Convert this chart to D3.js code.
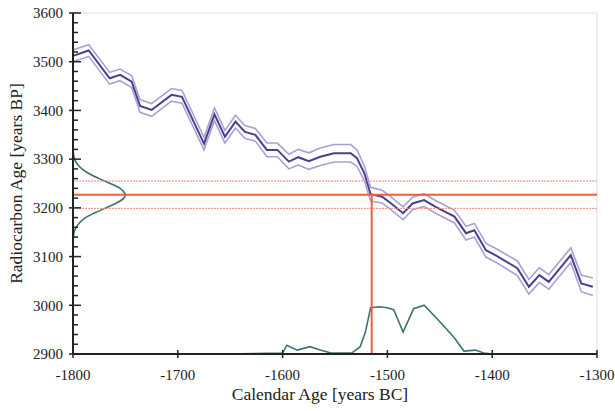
<!DOCTYPE html>
<html><head><meta charset="utf-8">
<script src="https://cdn.jsdelivr.net/npm/d3@7"></script>
<style>body{margin:0;background:#fff}svg{display:block}</style>
</head><body><svg id="c" width="615" height="411"></svg>
<script>
// Calibration curve (calendar year, radiocarbon age, 1-sigma)
const calYears = [-1800,-1785,-1765,-1755,-1744,-1736,-1725,-1706,-1696,-1675,-1665,-1655,-1645,-1636,-1626,-1615,-1605,-1594,-1585,-1575,-1564,-1551,-1535,-1529,-1522,-1516,-1505,-1497,-1485,-1476,-1465,-1454,-1436,-1425,-1417,-1406,-1397,-1376,-1365,-1355,-1346,-1325,-1315,-1304];
const c14Age = [3512,3523,3466,3473,3459,3409,3401,3432,3428,3332,3392,3346,3377,3356,3350,3319,3319,3295,3304,3296,3305,3312,3312,3302,3271,3228,3223,3210,3189,3209,3216,3202,3182,3148,3154,3113,3103,3076,3038,3062,3048,3103,3045,3038];
const c14Err = [12,12,12,12,12,13,13,13,13,13,13,13,13,13,13,14,14,15,16,17,18,18,18,17,15,14,13,13,13,13,13,13,13,14,14,14,14,15,15,15,15,15,17,18];
// Measured sample
const sampleAge = 3227;
const sampleErr = 28;
const sampleCalYear = -1515;
// Measured radiocarbon distribution (drawn on y axis)
const rcLevels = [3130,3140,3150,3160,3170,3180,3190,3200,3210,3220,3227,3230,3240,3250,3260,3270,3280,3290,3300,3310,3320];
const rcDensity = [0,0.01,0.02,0.06,0.13,0.24,0.42,0.63,0.83,0.97,1.0,0.99,0.9,0.71,0.5,0.31,0.17,0.08,0.03,0.01,0];
// Calibrated probability distribution (drawn on x axis)
const probYears = [-1660,-1600,-1596,-1586,-1574,-1564,-1554,-1534,-1526,-1521,-1516,-1508,-1500,-1494,-1485,-1475,-1465,-1456,-1446,-1436,-1427,-1416,-1408,-1400];
const probValues = [0,0.02,0.18,0.08,0.15,0.08,0.02,0.02,0.15,0.45,0.95,0.97,0.95,0.91,0.45,0.93,1.0,0.8,0.57,0.33,0.06,0.08,0.02,0];
// Axes
const xTicks = [-1800,-1700,-1600,-1500,-1400,-1300];
const yTicks = [2900,3000,3100,3200,3300,3400,3500,3600];
const xTitle = "Calendar Age [years BC]";
const yTitle = "Radiocarbon Age [years BP]";

const FONT = "'Liberation Serif', 'Times New Roman', serif";
const W = 615, H = 411, m = {l:73, r:18, t:13, b:57};
const svg = d3.select("#c");
const x = d3.scaleLinear().domain([-1800,-1300]).range([m.l, W - m.r]);
const y = d3.scaleLinear().domain([2900,3600]).range([H - m.b, m.t]);
const px = d3.scaleLinear().domain([0,1]).range([x(-1800), x(-1750)]);
const py = d3.scaleLinear().domain([0,1]).range([y(2900), y(3000)]);

// frame (light)
svg.append("line").attr("x1", x(-1800)).attr("x2", x(-1300)).attr("y1", y(3600)).attr("y2", y(3600)).attr("stroke","#e2e2e2").attr("stroke-width",1.2);
svg.append("line").attr("x1", x(-1300)).attr("x2", x(-1300)).attr("y1", y(3600)).attr("y2", y(2900)).attr("stroke","#e2e2e2").attr("stroke-width",1.2);

const idx = d3.range(calYears.length);
const line = f => d3.line().x(i => x(calYears[i])).y(i => y(f(i)))(idx);
svg.append("path").attr("d", line(i => c14Age[i] + c14Err[i])).attr("fill","none").attr("stroke","#ab9fd6").attr("stroke-width",1.6);
svg.append("path").attr("d", line(i => c14Age[i] - c14Err[i])).attr("fill","none").attr("stroke","#ab9fd6").attr("stroke-width",1.6);
svg.append("path").attr("d", line(i => c14Age[i])).attr("fill","none").attr("stroke","#4b3f8e").attr("stroke-width",2);

// distributions
svg.append("path").attr("d", d3.line().curve(d3.curveCatmullRom).x((d,i) => px(rcDensity[i])).y(d => y(d))(rcLevels))
  .attr("fill","none").attr("stroke","#3f7071").attr("stroke-width",1.6);
svg.append("path").attr("d", d3.line().x(d => x(d)).y((d,i) => py(probValues[i]))(probYears))
  .attr("fill","none").attr("stroke","#3f7071").attr("stroke-width",1.6);

// sample lines
[sampleAge + sampleErr, sampleAge - sampleErr].forEach(v => {
  svg.append("line").attr("x1", x(-1800)).attr("x2", x(-1300)).attr("y1", y(v)).attr("y2", y(v))
    .attr("stroke","#f08a70").attr("stroke-width",1).attr("stroke-dasharray","2,1");
});
svg.append("line").attr("x1", x(-1800)).attr("x2", x(-1300)).attr("y1", y(sampleAge)).attr("y2", y(sampleAge))
  .attr("stroke","#e8603c").attr("stroke-width",2);
svg.append("line").attr("x1", x(sampleCalYear)).attr("x2", x(sampleCalYear)).attr("y1", y(sampleAge)).attr("y2", y(2900))
  .attr("stroke","#e8603c").attr("stroke-width",2);

// axes
const gx = svg.append("g").attr("transform", `translate(0,${y(2900)})`);
gx.append("line").attr("x1", x(-1800)).attr("x2", x(-1300)).attr("stroke","#222").attr("stroke-width",2);
gx.selectAll(".t").data(xTicks).enter().append("line").attr("x1", d => x(d)).attr("x2", d => x(d)).attr("y1",-4).attr("y2",4).attr("stroke","#222").attr("stroke-width",1.5);
gx.selectAll("text").data(xTicks).enter().append("text").attr("x", d => x(d)).attr("y", 26).attr("text-anchor","middle")
  .attr("font-family", FONT).attr("font-size",15).attr("fill","#222").text(d => d);

const gy = svg.append("g").attr("transform", `translate(${x(-1800)},0)`);
gy.append("line").attr("y1", y(2900)).attr("y2", y(3600)).attr("stroke","#222").attr("stroke-width",2);
gy.selectAll(".m").data(d3.range(2900, 3601, 20)).enter().append("line").attr("y1", d => y(d)).attr("y2", d => y(d))
  .attr("x1", d => d % 100 === 0 ? -4 : 0).attr("x2", d => d % 100 === 0 ? 8 : 5).attr("stroke","#222").attr("stroke-width",1.5);
gy.selectAll("text").data(yTicks).enter().append("text").attr("x",-10).attr("y", d => y(d)).attr("dy","0.35em").attr("text-anchor","end")
  .attr("font-family", FONT).attr("font-size",15).attr("fill","#222").text(d => d);

svg.append("text").attr("x", 320).attr("y", 400).attr("text-anchor","middle").attr("font-family", FONT).attr("font-size",17.5).attr("fill","#222").text(xTitle);
svg.append("text").attr("transform", `translate(22,${(y(2900)+y(3600))/2}) rotate(-90)`).attr("text-anchor","middle")
  .attr("font-family", FONT).attr("font-size",17.5).attr("fill","#222").text(yTitle);
</script></body></html>
